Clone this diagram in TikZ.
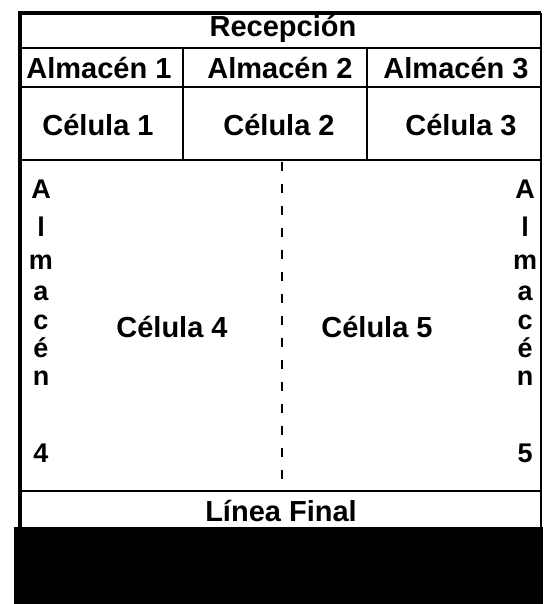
\documentclass[tikz,border=0pt]{standalone}
\usepackage{fontspec}
\setmainfont{Liberation Sans}
\begin{document}
\begin{tikzpicture}[x=1pt,y=-1pt,
  cell text/.style={font=\bfseries\fontsize{29}{31}\selectfont, inner sep=0pt, anchor=base},
  side letter/.style={font=\bfseries\fontsize{27}{29}\selectfont, inner sep=0pt, anchor=base},
  grid line/.style={line width=2.2pt},
  frame line/.style={line width=4.5pt}]
\useasboundingbox (0,0) rectangle (543,604);
\fill (14,527) rectangle (543,604);
\draw[grid line] (20,48) -- (541,48) (20,87) -- (541,87) (20,160) -- (541,160)
  (20,491) -- (541,491) (183,48) -- (183,160) (367,48) -- (367,160);
\draw[grid line] (541,13) -- (541,527);
\draw[frame line] (20,527) -- (20,13) -- (541,13);
\draw[line width=2.8pt, dash pattern=on 9pt off 13pt] (282,162) -- (282,491);
\node[cell text] (recep) at (283,37) {Recepción};
\node[cell text] (alm1) at (99,79) {Almacén 1};
\node[cell text] (alm2) at (280,79) {Almacén 2};
\node[cell text] (alm3) at (456,79) {Almacén 3};
\node[cell text] (cel1) at (98,136) {Célula 1};
\node[cell text] (cel2) at (279,136) {Célula 2};
\node[cell text] (cel3) at (461,136) {Célula 3};
\node[cell text] (cel4) at (172,337) {Célula 4};
\node[cell text] (cel5) at (377,337) {Célula 5};
\node[cell text] (final) at (281,521) {Línea Final};
\foreach \ch/\y [count=\i] in {A/198,l/236,m/269,a/300,c/329,é/357,n/385} {
  \node[side letter] (izq-\i) at (41,\y) {\ch};
  \node[side letter] (der-\i) at (525,\y) {\ch};
}
\node[side letter] (izq-num) at (41,462) {4};
\node[side letter] (der-num) at (525,462) {5};
\end{tikzpicture}
\end{document}
